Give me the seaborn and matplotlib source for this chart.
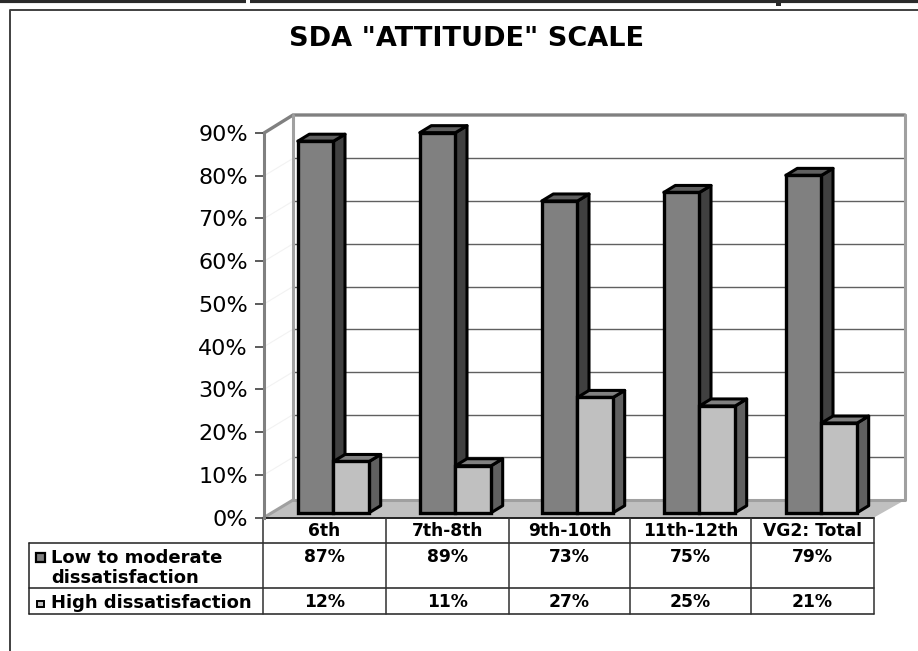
"""SDA attitude scale: faux 3-D bar chart with a data table underneath."""
import matplotlib

matplotlib.use("Agg")
import matplotlib.pyplot as plt
import pandas as pd
import seaborn as sns
from matplotlib.patches import Polygon, Rectangle

TITLE = 'SDA "ATTITUDE" SCALE'
GRADES = ["6th", "7th-8th", "9th-10th", "11th-12th", "VG2: Total"]
LOW_MODERATE = [87, 89, 73, 75, 79]
HIGH = [12, 11, 27, 25, 21]
SERIES = ["Low to moderate\ndissatisfaction", "High dissatisfaction"]
Y_TICKS = [0, 10, 20, 30, 40, 50, 60, 70, 80, 90]

W, H = 918, 651
PX_PER_PCT = 4.27
GROUP_PX = 122.0
FONT = "DejaVu Sans"

# front face colour, side colour, top colour for each series
FACE = ["#808080", "#c0c0c0"]
SIDE = ["#404040", "#606060"]
TOP = ["#606060", "#808080"]

df = pd.DataFrame({
    "grade": GRADES * 2,
    "series": [SERIES[0]] * 5 + [SERIES[1]] * 5,
    "pct": LOW_MODERATE + HIGH,
})

sns.set_theme(style="white")
plt.rcParams["font.family"] = [FONT]

fig = plt.figure(figsize=(W / 100, H / 100), dpi=100, facecolor="white")

# Background layer in pixel coordinates: page rules, walls, table
bg = fig.add_axes([0, 0, 1, 1], zorder=0)
bg.set_xlim(0, W)
bg.set_ylim(H, 0)
bg.axis("off")

# page rules cut off at the top of the scan
bg.plot([0, 246], [1, 1], color="#2a2a2a", lw=3, solid_capstyle="butt")
bg.plot([250, W], [1, 1], color="#2a2a2a", lw=3, solid_capstyle="butt")
bg.add_patch(Rectangle((776, 0), 5, 6, color="#2a2a2a", lw=0))
bg.plot([10, 10, W], [H, 9.5, 9.5], color="#404040", lw=1.4)

# floor and walls
FRONT_L, FRONT_R, BACK_L, BACK_R = 264, 874, 293, 905
BASE_F, BASE_B, TOP_F, TOP_B = 517.5, 500, 133, 115
bg.add_patch(Polygon([(FRONT_L, BASE_F), (BACK_L, BASE_B), (BACK_R, BASE_B), (FRONT_R, BASE_F)],
                     facecolor="#c0c0c0", edgecolor="none"))
for t in Y_TICKS[1:-1]:
    y = BASE_B - t * PX_PER_PCT
    bg.plot([BACK_L, BACK_R], [y, y], color="#606060", lw=1.0)
    bg.plot([FRONT_L, BACK_L], [BASE_F - t * PX_PER_PCT, y], color="#f2f2f2", lw=0.8)
bg.plot([FRONT_L, BACK_L, BACK_R], [TOP_F, TOP_B, TOP_B], color="#808080", lw=2.4, solid_joinstyle="miter")
bg.plot([BACK_R, BACK_R, BACK_L, BACK_L], [TOP_B, BASE_B, BASE_B, TOP_B], color="#a0a0a0", lw=2.2)
bg.plot([BACK_L, FRONT_L], [BASE_B, BASE_F], color="#a0a0a0", lw=2.2)

# data table
ROWS = [517.5, 543, 588, 614]
COLS = [263, 386, 509, 630, 751, 874]
LEFT = 29
bg.plot([FRONT_L, FRONT_R], [ROWS[0], ROWS[0]], color="black", lw=1.2)
for y in ROWS[1:]:
    bg.plot([LEFT, COLS[-1]], [y, y], color="#202020", lw=1.1)
for x in COLS:
    bg.plot([x, x], [ROWS[0], ROWS[3]], color="#303030", lw=1.1)
bg.plot([LEFT, LEFT], [ROWS[1], ROWS[3]], color="#202020", lw=1.1)

TABLE_FS = 12.3
for i, grade in enumerate(GRADES):
    xc = (COLS[i] + COLS[i + 1]) / 2
    bg.text(xc, 536, grade, ha="center", va="baseline", fontsize=TABLE_FS, fontweight="bold", color="black")
    bg.text(xc, 561.5, f"{LOW_MODERATE[i]}%", ha="center", va="baseline", fontsize=TABLE_FS, fontweight="bold", color="black")
    bg.text(xc, 607, f"{HIGH[i]}%", ha="center", va="baseline", fontsize=TABLE_FS, fontweight="bold", color="black")

bg.text(51, 563, "Low to moderate", ha="left", va="baseline", fontsize=13, fontweight="bold", color="black")
bg.text(51, 583, "dissatisfaction", ha="left", va="baseline", fontsize=13, fontweight="bold", color="black")
bg.text(51, 608, "High dissatisfaction", ha="left", va="baseline", fontsize=13, fontweight="bold", color="black")
bg.add_patch(Rectangle((35.5, 553), 9, 9, facecolor=FACE[0], edgecolor="black", lw=1.6))
bg.add_patch(Rectangle((36.5, 600.5), 7, 6.5, facecolor=FACE[1], edgecolor="black", lw=1.4))

bg.text(466.5, 46.5, TITLE, ha="center", va="baseline", fontsize=19.5, fontweight="bold", color="black")

# Bars: full-figure axes, scaled so one unit on x is one category step
ax = fig.add_axes([0, 0, 1, 1], zorder=2)
ax.patch.set_alpha(0)
sns.barplot(
    data=df, x="grade", y="pct", hue="series", hue_order=SERIES,
    palette=FACE, width=0.585, gap=0, saturation=1,
    edgecolor="black", linewidth=2.4, legend=False, ax=ax,
)
X0_PX, Y0_PX = 333.5, 512.7
ax.set_xlim(-X0_PX / GROUP_PX, (W - X0_PX) / GROUP_PX)
ax.set_ylim(-(H - Y0_PX) / PX_PER_PCT, Y0_PX / PX_PER_PCT)
ax.axis("off")

# extrude each seaborn bar: side and top faces
dx = 11.5 / GROUP_PX
dy = 7 / PX_PER_PCT
n = len(GRADES)
for idx, bar in enumerate(ax.patches[:2 * n]):
    s = idx // n
    x0, w, h = bar.get_x(), bar.get_width(), bar.get_height()
    x1 = x0 + w
    z = 3 + s * 2
    bar.set_zorder(z + 1)
    ax.add_patch(Polygon([(x1, 0), (x1 + dx, dy), (x1 + dx, h + dy), (x1, h)],
                         facecolor=SIDE[s], edgecolor="black", lw=2.2, zorder=z, joinstyle="round"))
    ax.add_patch(Polygon([(x0, h), (x0 + dx, h + dy), (x1 + dx, h + dy), (x1, h)],
                         facecolor=TOP[s], edgecolor="black", lw=2.2, zorder=z, joinstyle="round"))

# Value axis on the front left edge of the box
yax = fig.add_axes([FRONT_L / W, 1 - BASE_F / H, 0.02, (BASE_F - TOP_F) / H], zorder=1)
yax.patch.set_alpha(0)
yax.set_ylim(0, 90)
yax.set_yticks(Y_TICKS)
yax.set_yticklabels([f"{t}%" for t in Y_TICKS], fontsize=16, color="black")
yax.set_xticks([])
yax.tick_params(axis="y", left=True, length=6.5, width=1.2, color="#404040", pad=5)
for name in ["top", "right", "bottom"]:
    yax.spines[name].set_visible(False)
yax.spines["left"].set_color("#808080")
yax.spines["left"].set_linewidth(2.2)

fig.savefig("out.png", dpi=100, facecolor="white")
